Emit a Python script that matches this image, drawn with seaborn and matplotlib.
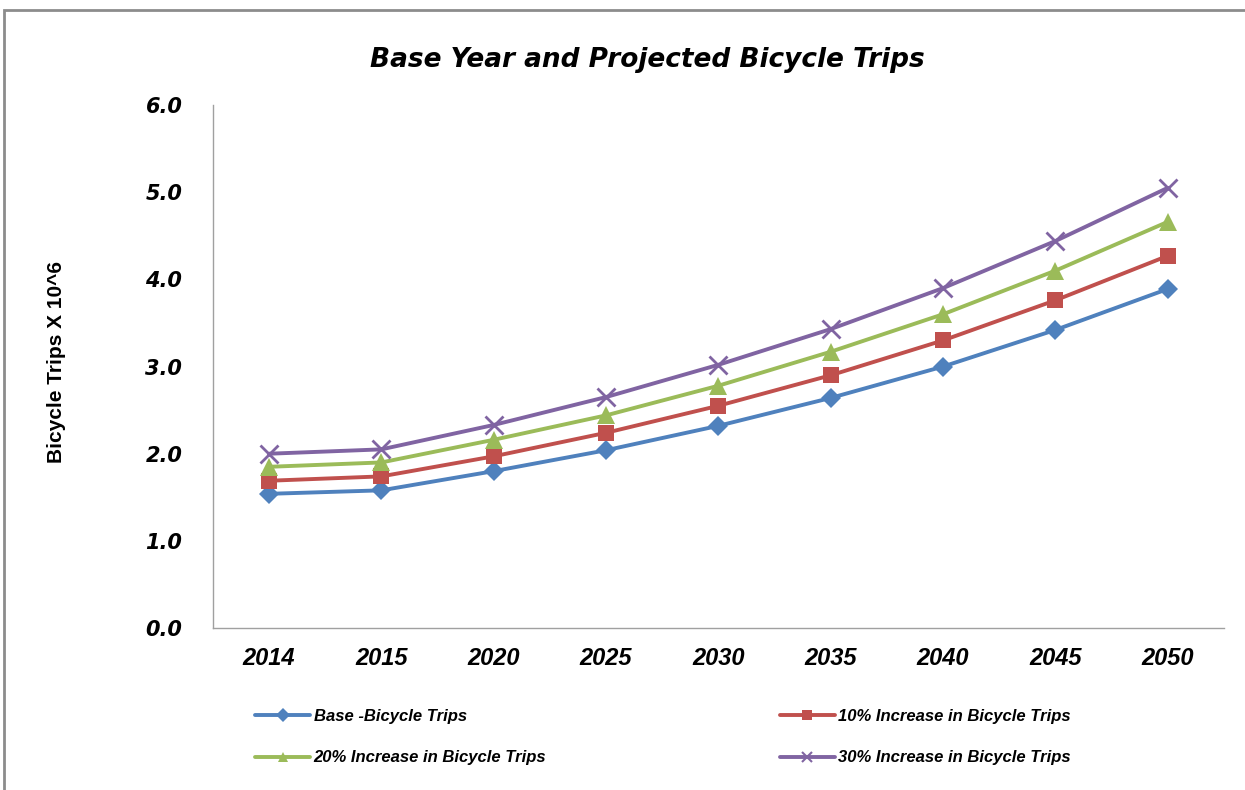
import matplotlib
matplotlib.use("Agg")
import matplotlib.pyplot as plt
import seaborn as sns
import pandas as pd
from matplotlib import font_manager
from matplotlib.patches import Rectangle
from matplotlib.lines import Line2D

years = ["2014", "2015", "2020", "2025", "2030", "2035", "2040", "2045", "2050"]
base = [1.54, 1.58, 1.80, 2.04, 2.32, 2.64, 3.00, 3.42, 3.89]
inc10 = [1.69, 1.74, 1.97, 2.24, 2.55, 2.90, 3.30, 3.76, 4.27]
inc20 = [1.85, 1.90, 2.16, 2.44, 2.78, 3.17, 3.60, 4.10, 4.66]
inc30 = [2.00, 2.05, 2.33, 2.65, 3.02, 3.43, 3.90, 4.44, 5.05]
series_names = ["Base -Bicycle Trips", "10% Increase in Bicycle Trips",
                "20% Increase in Bicycle Trips", "30% Increase in Bicycle Trips"]
y_ticks = [0.0, 1.0, 2.0, 3.0, 4.0, 5.0, 6.0]

colors = ["#4F81BD", "#C0504D", "#9BBB59", "#8064A2"]
markers = ["D", "s", "^", "x"]
msizes = [10, 12, 13, 13]

sns.set_theme(style="white")
names = {f.name for f in font_manager.fontManager.ttflist}
narrow = "Liberation Sans Narrow" if "Liberation Sans Narrow" in names else "Liberation Sans"
plt.rcParams["font.family"] = ["DejaVu Sans"]
plt.rcParams["text.color"] = "black"
plt.rcParams["xtick.color"] = "black"
plt.rcParams["ytick.color"] = "black"

fig = plt.figure(figsize=(12.45, 7.9), dpi=100)
ax = fig.add_axes([0.171, 0.205, 0.812, 0.662])

for name, vals, c, m, ms in zip(series_names, [base, inc10, inc20, inc30], colors, markers, msizes):
    d = pd.DataFrame({"Year": years, "Trips": vals})
    sns.lineplot(data=d, x="Year", y="Trips", color=c, marker=m, markersize=ms,
                 markeredgewidth=2.0 if m == "x" else 0, markeredgecolor=c,
                 linewidth=2.8, ax=ax, sort=False, label=name, legend=False)

ax.set_xlim(-0.5, len(years) - 0.5)
ax.set_ylim(0, 6)
ax.set_yticks(y_ticks)
ax.set_yticklabels([f"{t:.1f}" for t in y_ticks], fontsize=15, fontweight="bold",
                   fontstyle="italic", color="black")
ax.set_xticks(range(len(years)))
ax.set_xticklabels(years, fontsize=17, fontweight="bold", fontstyle="italic",
                   family=narrow, color="black")
ax.tick_params(axis="y", pad=22, length=0)
ax.tick_params(axis="x", pad=14, length=0)
ax.set_xlabel("")
ax.set_ylabel("")
for s in ["top", "right"]:
    ax.spines[s].set_visible(False)
for s in ["left", "bottom"]:
    ax.spines[s].set_color("#A0A0A0")
    ax.spines[s].set_linewidth(1.0)

fig.text(0.52, 0.924, "Base Year and Projected Bicycle Trips", ha="center", va="center",
         fontsize=19, fontweight="bold", fontstyle="italic", color="black")
fig.text(0.045, 0.542, "Bicycle Trips X 10^6", rotation=90, ha="center", va="center",
         fontsize=15, fontweight="bold", family=narrow, color="black")

handles = []
for c, m in zip(colors, markers):
    handles.append(Line2D([], [], color=c, marker=m, linewidth=2.8, markersize=7,
                          markeredgewidth=1.5 if m == "x" else 0))
order = [0, 2, 1, 3]
leg = fig.legend([handles[i] for i in order], [series_names[i] for i in order],
                 ncol=2, loc="center left", bbox_to_anchor=(0.193, 0.067),
                 frameon=False, handlelength=3.3, handletextpad=0.2,
                 columnspacing=14.0, labelspacing=1.6,
                 prop={"family": narrow, "weight": "bold", "style": "italic", "size": 12})
for t in leg.get_texts():
    t.set_color("black")

fig.patches.append(Rectangle((4 / 1245, -0.02), 1.05, 1 - 10 / 790 + 0.02,
                             transform=fig.transFigure, fill=False,
                             edgecolor="#8C8C8C", linewidth=2.0))

fig.savefig("out.png", dpi=100)
